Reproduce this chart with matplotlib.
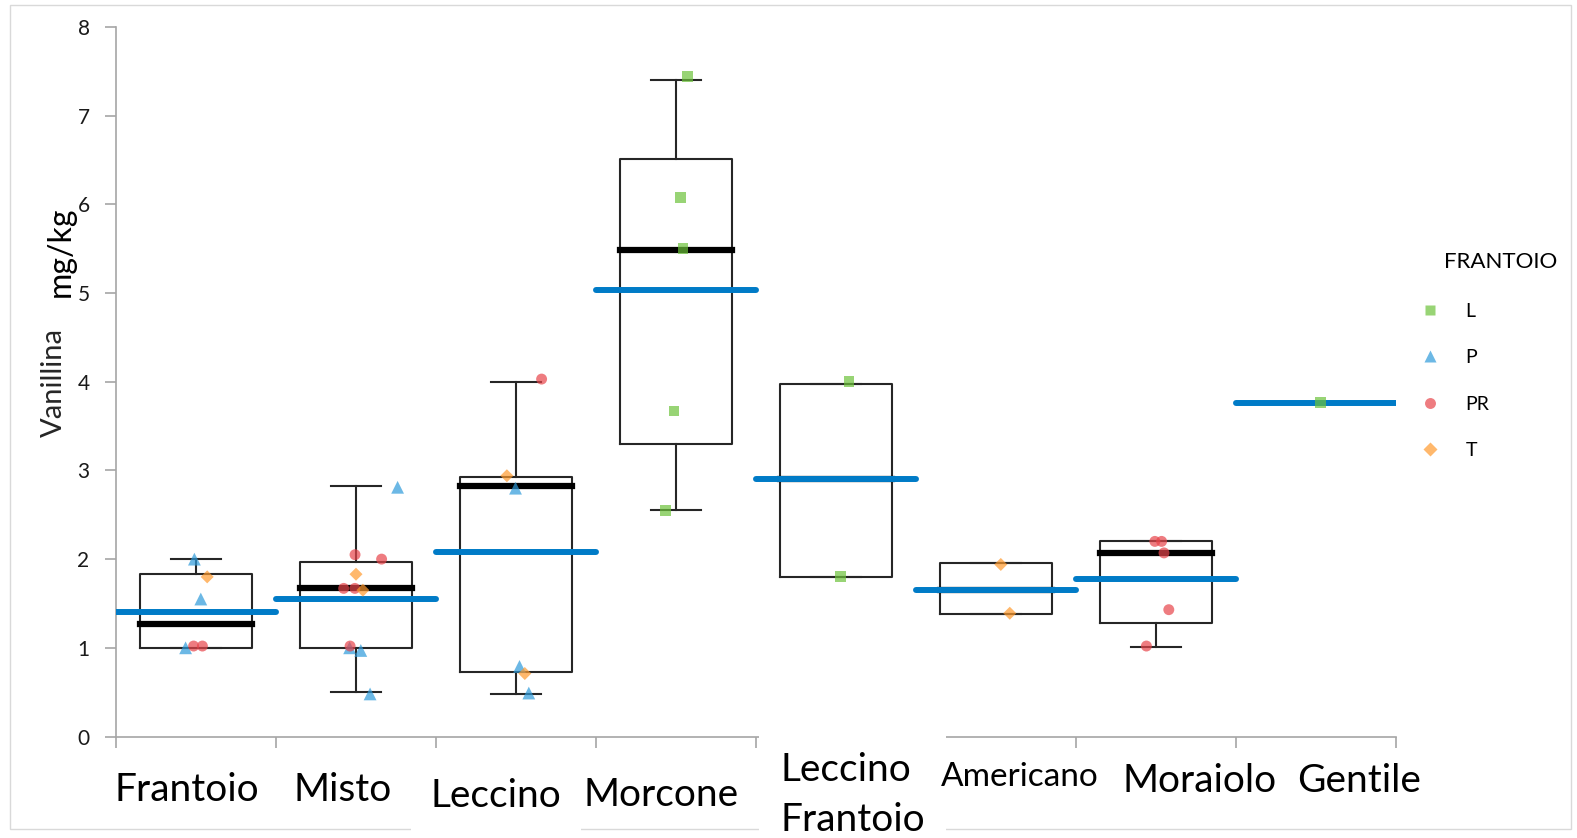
import matplotlib
matplotlib.use("Agg")
import numpy as np
import matplotlib.pyplot as plt
from matplotlib.lines import Line2D
from matplotlib.patches import Rectangle

plt.rcParams['font.family'] = ['Lato', 'DejaVu Sans']

# categorie (varietà)
categories = ['Frantoio', 'Misto', 'Leccino', 'Morcone', 'Leccino\nFrantoio',
              'Americano', 'Moraiolo', 'Gentile']

# statistiche dei box (Gentile ha un solo valore, nessun box)
box_q1 = [1.00, 1.00, 0.73, 3.30, 1.80, 1.38, 1.28]
box_med = [1.27, 1.67, 2.82, 5.48, 2.90, 1.65, 2.07]
box_q3 = [1.83, 1.97, 2.93, 6.51, 3.97, 1.96, 2.20]
box_lo = [1.00, 0.50, 0.48, 2.55, 1.80, 1.38, 1.01]
box_hi = [2.00, 2.83, 4.00, 7.40, 3.97, 1.96, 2.20]

# medie (linea blu)
means = [1.40, 1.55, 2.08, 5.03, 2.90, 1.65, 1.78, 3.76]

# singoli campioni: categoria, frantoio, valore
pt_cat = [0, 0, 0, 0, 0, 0,
          1, 1, 1, 1, 1, 1, 1, 1, 1, 1, 1,
          2, 2, 2, 2, 2, 2,
          3, 3, 3, 3, 3,
          4, 4,
          5, 5,
          6, 6, 6, 6, 6,
          7]
pt_frantoio = ['P', 'T', 'P', 'P', 'PR', 'PR',
               'P', 'PR', 'PR', 'T', 'PR', 'PR', 'T', 'P', 'PR', 'P', 'P',
               'PR', 'T', 'P', 'P', 'T', 'P',
               'L', 'L', 'L', 'L', 'L',
               'L', 'L',
               'T', 'T',
               'PR', 'PR', 'PR', 'PR', 'PR',
               'L']
pt_value = [2.00, 1.80, 1.55, 1.00, 1.02, 1.02,
            2.81, 2.05, 2.00, 1.83, 1.67, 1.67, 1.65, 1.00, 1.02, 0.97, 0.48,
            4.03, 2.94, 2.80, 0.79, 0.71, 0.49,
            7.44, 6.08, 5.50, 3.67, 2.55,
            4.00, 1.80,
            1.94, 1.39,
            2.20, 2.20, 2.07, 1.43, 1.02,
            3.77]
# spostamento orizzontale dei punti (jitter)
pt_offset = [-0.01, 0.07, 0.03, -0.065, -0.015, 0.04,
             0.26, -0.006, 0.16, 0.0, -0.077, -0.007, 0.043, -0.04, -0.037, 0.03, 0.088,
             0.16, -0.057, -0.003, 0.022, 0.055, 0.08,
             0.07, 0.03, 0.043, -0.013, -0.067,
             0.082, 0.028,
             0.03, 0.086,
             -0.007, 0.035, 0.05, 0.08, -0.06,
             0.03]

groups = ['L', 'P', 'PR', 'T']
group_marker = {'L': 's', 'P': '^', 'PR': 'o', 'T': 'D'}
group_color = {'L': '#6CC23A', 'P': '#2E9BDA', 'PR': '#E8454B', 'T': '#FF9A2E'}
group_size = {'L': 60, 'P': 85, 'PR': 62, 'T': 44}

W, H = 1577, 838
fig = plt.figure(figsize=(W / 100, H / 100), dpi=100)
ax = fig.add_axes([116 / W, 1 - 736.5 / H, (1396 - 116) / W, (736.5 - 27) / H])

# cornice grigia del grafico
fig.add_artist(Rectangle((10 / W, 1 - 829 / H), (1571 - 10) / W, (829 - 5) / H,
                         transform=fig.transFigure, fill=False,
                         edgecolor='#d9d9d9', lw=1, zorder=1))

# box plot
stats = []
for i in range(len(box_q1)):
    stats.append(dict(label=categories[i], q1=box_q1[i], med=box_med[i],
                      q3=box_q3[i], whislo=box_lo[i], whishi=box_hi[i]))
ax.bxp(stats, positions=range(len(stats)), widths=0.7, capwidths=0.31,
       showfliers=False,
       boxprops=dict(color='#262626', lw=1.5),
       whiskerprops=dict(color='#262626', lw=1.5),
       capprops=dict(color='#262626', lw=1.5),
       medianprops=dict(color='black', lw=4.5, solid_capstyle='projecting'))

# medie
for i, m in enumerate(means):
    ax.plot([i - 0.5, i + 0.5], [m, m], color='#007BC7', lw=4.3,
            solid_capstyle='round', zorder=4)

# punti per frantoio
pt_cat = np.array(pt_cat)
pt_value = np.array(pt_value)
pt_offset = np.array(pt_offset)
pt_frantoio = np.array(pt_frantoio)
for g in groups:
    sel = pt_frantoio == g
    ax.scatter(pt_cat[sel] + pt_offset[sel], pt_value[sel], marker=group_marker[g],
               s=group_size[g], color=group_color[g], alpha=0.7,
               edgecolors='none', zorder=5)

ax.set_xlim(-0.5, 7.5)
ax.set_ylim(0, 8)
ax.set_xticks(np.arange(-0.5, 8, 1))
ax.set_xticklabels([])
ax.set_yticks(range(9))
ax.tick_params(axis='x', direction='out', length=8, color='#a6a6a6', width=1.2)
ax.tick_params(axis='y', direction='out', length=8, color='#a6a6a6', width=1.2,
               pad=11, labelsize=15, labelcolor='#1a1a1a')
for s in ['top', 'right']:
    ax.spines[s].set_visible(False)
for s in ['left', 'bottom']:
    ax.spines[s].set_color('#a6a6a6')
    ax.spines[s].set_linewidth(1.2)

# titolo asse y
fig.text(53.5 / W, 1 - 382 / H, 'Vanillina', rotation=90, fontsize=21,
         ha='center', va='center', color='#262626')
fig.text(60.5 / W, 1 - 251.5 / H, 'mg/kg', rotation=90, fontsize=23,
         ha='center', va='center', color='black')

# etichette delle categorie (caselle di testo)
label_x = [187, 342.5, 496.3, 661.3, 780, 1019.3, 1199.3, 1359.2]
label_y = [789.5, 789.5, 795.5, 794.5, 795, 777.4, 780.5, 780.5]
for i, c in enumerate(categories):
    kw = dict(fontsize=28, va='center', ha='center', color='black')
    if c == 'Americano':
        kw['fontsize'] = 24
    if c == 'Leccino':
        kw['bbox'] = dict(boxstyle='square,pad=0.5', fc='white', ec='none')
    if '\n' in c:
        kw['ha'] = 'left'
        kw['linespacing'] = 1.48
        kw['bbox'] = dict(boxstyle='square,pad=0.55', fc='white', ec='none')
    fig.text(label_x[i] / W, 1 - label_y[i] / H, c, **kw)

# legenda
fig.text(1444 / W, 1 - 261.5 / H, 'FRANTOIO', fontsize=16, ha='left', va='center')
handles = [Line2D([], [], ls='none', marker=group_marker[g], ms=np.sqrt(group_size[g]),
                  mfc=group_color[g], mec='none', alpha=0.7) for g in groups]
fig.legend(handles, groups, loc='upper left', bbox_to_anchor=(1420 / W, 1 - 302.5 / H),
           frameon=False, fontsize=14, labelspacing=1.52, handlelength=1.0,
           handletextpad=1.34, borderpad=0, borderaxespad=0)

fig.savefig('out.png', dpi=100)
